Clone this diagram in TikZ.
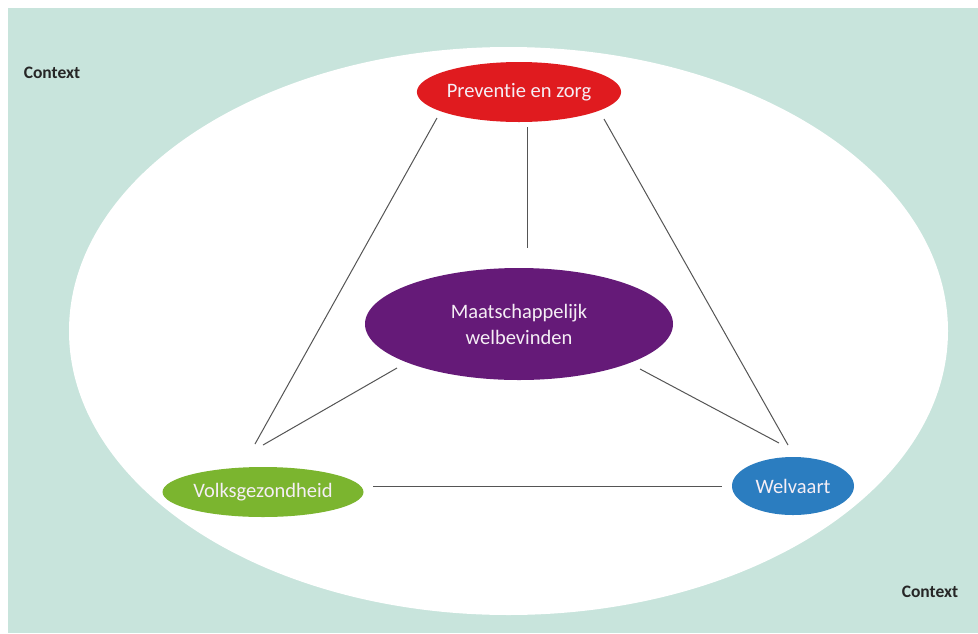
\documentclass[tikz,border=0pt]{standalone}
\usepackage{fontspec}
\setmainfont[Ligatures=NoCommon]{Carlito}
\usetikzlibrary{shapes.geometric}
\definecolor{ctxbg}{RGB}{200,228,220}
\definecolor{pzred}{RGB}{224,27,31}
\definecolor{mwpurple}{RGB}{101,26,120}
\definecolor{vggreen}{RGB}{123,181,47}
\definecolor{wvblue}{RGB}{43,125,192}
\definecolor{linegray}{RGB}{85,85,85}
\definecolor{nodetext}{RGB}{245,238,245}
\tikzset{
  topic/.style={ellipse, inner sep=0pt, text=nodetext, font=\fontsize{20.5}{26}\selectfont, align=center},
  conn/.style={draw=linegray, line width=1pt},
  ctxlabel/.style={font=\fontsize{17.5}{20}\selectfont\bfseries, text=black!85}
}
\begin{document}
\begin{tikzpicture}[x=1pt,y=-1pt]
\useasboundingbox (0,0) rectangle (978,633);
\fill[white] (0,0) rectangle (978,633);
\fill[ctxbg] (8,8) rectangle (978,633);
\fill[white] (508.5,331) ellipse [x radius=439.5, y radius=284];

\node[ctxlabel] (ctx1) at (52,73) {Context};
\node[ctxlabel] (ctx2) at (930,592) {Context};

\node[topic, fill=pzred, minimum width=200pt, minimum height=60pt] (pz) at (519,92) {Preventie en zorg};
\node[topic, fill=mwpurple, minimum width=308pt, minimum height=112pt] (mw) at (519,324) {Maatschappelijk\\welbevinden};
\node[topic, fill=vggreen, minimum width=201pt, minimum height=50pt] (vg) at (263,492) {Volksgezondheid};
\node[topic, fill=wvblue, minimum width=122pt, minimum height=58pt] (wv) at (793,486) {Welvaart};

\coordinate (pzvgA) at (437,118); \coordinate (pzvgB) at (255,444);
\coordinate (pzmwA) at (527,127); \coordinate (pzmwB) at (527,248);
\coordinate (pzwvA) at (604,119); \coordinate (pzwvB) at (788,445);
\coordinate (mwvgA) at (397,368); \coordinate (mwvgB) at (263,445);
\coordinate (mwwvA) at (640,369); \coordinate (mwwvB) at (779,443);
\coordinate (vgwvA) at (373,486); \coordinate (vgwvB) at (722,486);

\draw[conn] (pzvgA) -- (pzvgB);
\draw[conn] (pzmwA) -- (pzmwB);
\draw[conn] (pzwvA) -- (pzwvB);
\draw[conn] (mwvgA) -- (mwvgB);
\draw[conn] (mwwvA) -- (mwwvB);
\draw[conn] (vgwvA) -- (vgwvB);
\end{tikzpicture}
\end{document}
